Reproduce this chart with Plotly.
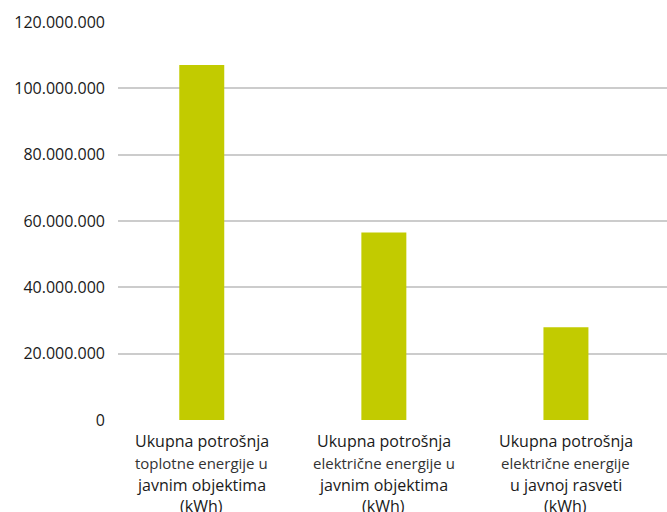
import plotly.graph_objects as go

categories = ["toplotna_javni", "elektricna_javni", "elektricna_rasveta"]
values = [107_000_000, 56_500_000, 28_000_000]
label_lines = [
    ["Ukupna potrošnja", "toplotne energije u", "javnim objektima", "(kWh)"],
    ["Ukupna potrošnja", "električne energije u", "javnim objektima", "(kWh)"],
    ["Ukupna potrošnja", "električne energije", "u javnoj rasveti", "(kWh)"],
]
tick_vals = [0, 20_000_000, 40_000_000, 60_000_000, 80_000_000, 100_000_000, 120_000_000]
tick_text = ["0", "20.000.000", "40.000.000", "60.000.000", "80.000.000", "100.000.000", "120.000.000"]

FONT = "Open Sans"
fig = go.Figure(go.Bar(
    x=list(range(len(categories))), y=values,
    marker=dict(color="#c2cb00", line=dict(width=0)),
    width=0.247,
))

line_y = [441, 463, 485, 506]  # pixel centers of each label line
line_size = [16, 15, 16, 16]
line_color = ["#1a1a1a", "#333333", "#1a1a1a", "#1a1a1a"]
for i, lines in enumerate(label_lines):
    for j, t in enumerate(lines):
        fig.add_annotation(
            x=i, xref="x", y=(512 - line_y[j] - 92) / 398, yref="paper",
            text=t, showarrow=False, xanchor="center", yanchor="middle",
            font=dict(family=FONT, size=line_size[j], color=line_color[j]),
        )

fig.update_layout(
    width=667, height=512,
    margin=dict(l=118, r=0, t=22, b=92),
    paper_bgcolor="white", plot_bgcolor="white",
    showlegend=False,
    font=dict(family=FONT, size=16, color="#1a1a1a"),
    xaxis=dict(range=[-0.46, 2.555], showticklabels=False, showgrid=False,
               zeroline=False, showline=False, ticks=""),
    yaxis=dict(range=[0, 120_000_000], tickvals=tick_vals, ticktext=tick_text,
               showgrid=True, gridcolor="#cccccc", gridwidth=2,
               zeroline=False, showline=False, ticks="", ticklabelstandoff=12,
               tickfont=dict(family=FONT, size=16, color="#1a1a1a")),
)
fig.write_html("out.html")
